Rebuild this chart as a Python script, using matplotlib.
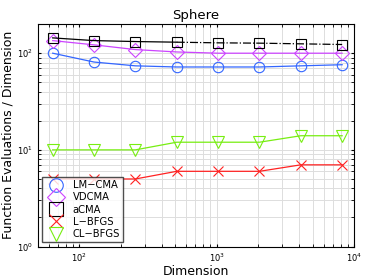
import numpy as np
import matplotlib
matplotlib.use('Agg')
import matplotlib.pyplot as plt

dims = [64, 128, 256, 512, 1024, 2048, 4096, 8192]
lmcma = [100, 81, 74, 72, 72, 72, 74, 76]
vdcma = [135, 122, 109, 103, 100, 100, 100, 100]
acma = [144, 135, 132, 130, 128, 127, 125, 123]
lbfgs = [5, 5, 5, 6, 6, 6, 7, 7]
clbfgs = [10, 10, 10, 12, 12, 12, 14, 14]

fig = plt.figure(figsize=(3.65, 2.77), dpi=100)
ax = fig.add_axes([0.104, 0.110, 0.866, 0.803])

mk = dict(markersize=7.5, markerfacecolor='none', markeredgewidth=0.8, linewidth=0.9)
h1, = ax.plot(dims, lmcma, 'o-', color='#3366ff', **mk)
h2, = ax.plot(dims, vdcma, 'D-', color='#cc44ff', **dict(mk, markersize=7))
# aCMA: solid up to 512, dash-dot after
ax.plot(dims[:4], acma[:4], '-', color='black', linewidth=0.9)
ax.plot(dims[3:], acma[3:], '-.', color='black', linewidth=0.9)
h3, = ax.plot(dims, acma, 's', color='black', **mk)
h4, = ax.plot(dims, lbfgs, 'x-', color='#ff2222', **mk)
h5, = ax.plot(dims, clbfgs, 'v-', color='#77ee11', **dict(mk, markersize=8))

ax.set_xscale('log')
ax.set_yscale('log')
ax.set_xlim(50, 1e4)
ax.set_ylim(1, 200)
ax.grid(True, which='both', color='#dddddd', linewidth=0.7)
ax.set_axisbelow(True)
ax.tick_params(which='both', direction='in', top=True, right=True, labelsize=6, length=2.5)

ax.set_title('Sphere', fontsize=9.5, pad=4)
ax.set_xlabel('Dimension', fontsize=9, labelpad=1)
ax.set_ylabel('Function Evaluations / Dimension', fontsize=9, labelpad=2)

leg = ax.legend([h1, h2, h3, h4, h5], ['LM\u2212CMA', 'VDCMA', 'aCMA', 'L\u2212BFGS', 'CL\u2212BFGS'],
                loc='lower left', bbox_to_anchor=(0.012, 0.02), fontsize=7.2, frameon=True,
                fancybox=False, borderaxespad=0.0, borderpad=0.3, handlelength=2.2,
                labelspacing=0.22, handletextpad=0.6, markerscale=1.3)
leg.get_frame().set_edgecolor('#222222')
leg.get_frame().set_linewidth(1.0)
for line in leg.get_lines():
    line.set_linestyle('none')

fig.savefig('out.png', dpi=100)
